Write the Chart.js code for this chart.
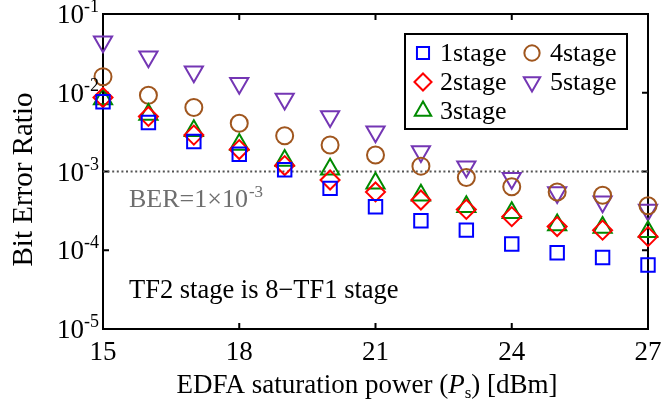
<!DOCTYPE html>
<html>
<head>
<meta charset="utf-8">
<script src="https://cdn.jsdelivr.net/npm/chart.js@4.4.1/dist/chart.umd.min.js"></script>
<style>
  html, body { margin: 0; padding: 0; background: #ffffff; }
  #wrap { position: relative; width: 663px; height: 401px; }
</style>
</head>
<body>
<div id="wrap"><canvas id="chart" width="663" height="401"></canvas></div>
<script>
// EDFA saturation power sweep [dBm]
const powerDbm = [15, 16, 17, 18, 19, 20, 21, 22, 23, 24, 25, 26, 27];

// Bit error ratio for each number of TF1 stages
const ber1stage = [0.0077, 0.0042, 0.0024, 0.00166, 0.00105, 0.00061, 0.000357, 0.000237, 0.00018, 0.00012, 0.000093, 0.000081, 0.000065];
const ber2stage = [0.0087, 0.0050, 0.0029, 0.0019, 0.00119, 0.00078, 0.00055, 0.000435, 0.00033, 0.000267, 0.00020, 0.00018, 0.000149];
const ber3stage = [0.0083, 0.0053, 0.0033, 0.0022, 0.00138, 0.00107, 0.00071, 0.00050, 0.000357, 0.00030, 0.00021, 0.000195, 0.000172];
const ber4stage = [0.016, 0.0093, 0.0065, 0.0041, 0.00285, 0.00217, 0.00162, 0.00117, 0.00084, 0.00064, 0.00055, 0.00050, 0.000368];
const ber5stage = [0.0445, 0.0287, 0.0185, 0.0132, 0.0083, 0.0050, 0.0032, 0.00179, 0.00115, 0.00082, 0.00054, 0.000414, 0.000324];

const seriesLabels = ['1stage', '2stage', '3stage', '4stage', '5stage'];

// Axis ticks
const xTickValues = [15, 18, 21, 24, 27];
const yTickExponents = [-1, -2, -3, -4, -5];

// FEC threshold
const berThreshold = 1e-3;

const SERIF = '"Liberation Serif", "Times New Roman", serif';

function toPoints(values) {
  return values.map((v, i) => ({ x: powerDbm[i], y: v }));
}

const markerStyles = [
  { color: '#0000ff', pointStyle: 'rect',    radius: 9.5, rotation: 0 },
  { color: '#ff0000', pointStyle: 'rectRot', radius: 9.5, rotation: 0 },
  { color: '#008a00', pointStyle: 'triangle', radius: 10.5, rotation: 0 },
  { color: '#a0561e', pointStyle: 'circle',  radius: 8.5, rotation: 0 },
  { color: '#7436b4', pointStyle: 'triangle', radius: 10.5, rotation: 180 }
];

const seriesValues = [ber1stage, ber2stage, ber3stage, ber4stage, ber5stage];

const datasets = seriesValues.map((vals, i) => ({
  label: seriesLabels[i],
  data: toPoints(vals),
  showLine: false,
  pointStyle: markerStyles[i].pointStyle,
  pointRotation: markerStyles[i].rotation,
  pointRadius: markerStyles[i].radius,
  pointHoverRadius: markerStyles[i].radius,
  pointBorderColor: markerStyles[i].color,
  pointBackgroundColor: 'rgba(0,0,0,0)',
  pointBorderWidth: 2,
  clip: false,
  order: 1
}));

// dotted threshold line across the sweep
datasets.unshift({
  label: 'threshold',
  data: [{ x: powerDbm[0], y: berThreshold }, { x: powerDbm[powerDbm.length - 1], y: berThreshold }],
  showLine: true,
  borderColor: '#555555',
  borderWidth: 2,
  borderDash: [2, 2.6],
  pointRadius: 0,
  fill: false,
  order: 2
});

// Frame, inward ticks and tick labels
const framePlugin = {
  id: 'frame',
  beforeDatasetsDraw(chart) {
    const { ctx, chartArea: a, scales: { x, y } } = chart;
    ctx.save();
    ctx.strokeStyle = '#000';
    ctx.lineWidth = 2;
    ctx.strokeRect(a.left, a.top, a.right - a.left, a.bottom - a.top);
    const tl = 6;
    ctx.beginPath();
    xTickValues.forEach(v => {
      const px = x.getPixelForValue(v);
      ctx.moveTo(px, a.bottom); ctx.lineTo(px, a.bottom - tl);
      ctx.moveTo(px, a.top); ctx.lineTo(px, a.top + tl);
    });
    yTickExponents.forEach(e => {
      const py = y.getPixelForValue(Math.pow(10, e));
      ctx.moveTo(a.left, py); ctx.lineTo(a.left + tl, py);
      ctx.moveTo(a.right, py); ctx.lineTo(a.right - tl, py);
    });
    ctx.stroke();
    ctx.restore();
  },
  afterDraw(chart) {
    const { ctx, chartArea: a, scales: { x, y } } = chart;
    ctx.save();
    ctx.fillStyle = '#000';

    // x tick labels
    ctx.font = '27px ' + SERIF;
    ctx.textAlign = 'center';
    ctx.textBaseline = 'alphabetic';
    xTickValues.forEach(v => {
      ctx.fillText(String(v), x.getPixelForValue(v), a.bottom + 31);
    });

    // y tick labels: 10 with raised exponent
    yTickExponents.forEach(e => {
      const py = y.getPixelForValue(Math.pow(10, e));
      const sup = '-' + Math.abs(e);
      ctx.font = '18px ' + SERIF;
      const supW = ctx.measureText(sup).width;
      const right = 99;
      ctx.textAlign = 'left';
      ctx.fillText(sup, right - supW, py - 2);
      ctx.font = '27px ' + SERIF;
      ctx.textAlign = 'right';
      ctx.fillText('10', right - supW, py + 9);
    });

    // y axis title
    ctx.save();
    ctx.translate(32, (a.top + a.bottom) / 2 + 8);
    ctx.rotate(-Math.PI / 2);
    ctx.font = '29px ' + SERIF;
    ctx.textAlign = 'center';
    ctx.textBaseline = 'alphabetic';
    ctx.fillText('Bit Error Ratio', 0, 0);
    ctx.restore();

    // x axis title with italic P and subscript s
    const parts = [
      { t: 'EDFA saturation power (', f: '27px ' + SERIF, dy: 0 },
      { t: 'P', f: 'italic 27px ' + SERIF, dy: 0 },
      { t: 's', f: '17px ' + SERIF, dy: 5 },
      { t: ') [dBm]', f: '27px ' + SERIF, dy: 0 }
    ];
    let total = 0;
    parts.forEach(p => { ctx.font = p.f; p.w = ctx.measureText(p.t).width; total += p.w; });
    let cx = 367 - total / 2;
    const tb = 393;
    ctx.textAlign = 'left';
    parts.forEach(p => { ctx.font = p.f; ctx.fillText(p.t, cx, tb + p.dy); cx += p.w; });

    // threshold annotation
    ctx.fillStyle = '#6e6e6e';
    ctx.font = '26px ' + SERIF;
    ctx.textAlign = 'left';
    const berMain = 'BER=1\u00d710';
    ctx.fillText(berMain, 129, 207);
    const bw = ctx.measureText(berMain).width;
    ctx.font = '17px ' + SERIF;
    ctx.fillText('-3', 129 + bw + 1, 197);

    // stage relation note
    ctx.fillStyle = '#000';
    ctx.font = '26.5px ' + SERIF;
    ctx.fillText('TF2 stage is 8\u2212TF1 stage', 129, 298);

    // legend
    const box = { l: 405, t: 34, w: 222, h: 95 };
    ctx.fillStyle = '#fff';
    ctx.fillRect(box.l, box.t, box.w, box.h);
    ctx.strokeStyle = '#000';
    ctx.lineWidth = 2;
    ctx.strokeRect(box.l, box.t, box.w, box.h);
    const slots = [
      { mx: 423, tx: 440, my: 53, by: 61 },
      { mx: 423, tx: 440, my: 82, by: 90 },
      { mx: 423, tx: 440, my: 111, by: 119 },
      { mx: 532, tx: 550, my: 53, by: 61 },
      { mx: 532, tx: 550, my: 82, by: 90 }
    ];
    slots.forEach((s, i) => {
      const m = markerStyles[i];
      ctx.strokeStyle = m.color;
      ctx.fillStyle = 'rgba(0,0,0,0)';
      ctx.lineWidth = 2;
      Chart.helpers.drawPoint(ctx, {
        pointStyle: m.pointStyle,
        radius: m.radius * 0.9,
        rotation: m.rotation,
        borderWidth: 2
      }, s.mx, s.my);
      ctx.fillStyle = '#000';
      ctx.font = '26px ' + SERIF;
      ctx.textAlign = 'left';
      ctx.fillText(seriesLabels[i], s.tx, s.by);
    });

    ctx.restore();
  }
};

new Chart(document.getElementById('chart'), {
  type: 'scatter',
  data: { datasets },
  options: {
    responsive: false,
    animation: false,
    devicePixelRatio: 1,
    layout: { padding: { top: 14, right: 15, left: 0, bottom: 0 } },
    plugins: { legend: { display: false }, tooltip: { enabled: false } },
    scales: {
      x: {
        type: 'linear',
        min: 15,
        max: 27,
        grid: { display: false, drawTicks: false },
        border: { display: false },
        ticks: { display: false },
        afterFit(s) { s.height = 72; }
      },
      y: {
        type: 'logarithmic',
        min: 1e-5,
        max: 1e-1,
        grid: { display: false, drawTicks: false },
        border: { display: false },
        ticks: { display: false },
        afterFit(s) { s.width = 103; }
      }
    }
  },
  plugins: [framePlugin]
});
</script>
</body>
</html>
